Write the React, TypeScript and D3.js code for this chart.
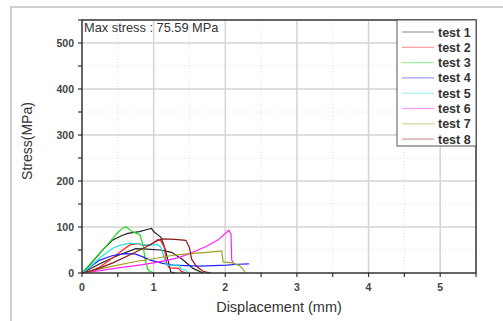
import React from "react";
import * as d3 from "d3";

const width = 503;
const height = 321;

const margin = { left: 82, top: 20, right: 27, bottom: 48 };

const xTicks = [0, 1, 2, 3, 4, 5];
const yTicks = [0, 100, 200, 300, 400, 500];

const seriesNames = ["test 1", "test 2", "test 3", "test 4", "test 5", "test 6", "test 7", "test 8"];
const seriesColors = ["#222222", "#ff2020", "#22dd22", "#2222ff", "#22e5e5", "#ff22ff", "#a0a020", "#8b1a1a"];

// displacement (mm), stress (MPa)
const test1: [number, number][] = [
  [0, 0], [0.1, 16], [0.2, 34], [0.3, 52], [0.43, 72], [0.55, 81], [0.64, 86], [0.8, 90],
  [0.9, 94], [0.97, 97], [1.0, 90], [1.05, 84], [1.1, 78], [1.15, 57], [1.2, 28], [1.24, 2], [1.3, 0],
];
const test2: [number, number][] = [
  [0, 0], [0.1, 3], [0.25, 13], [0.43, 33], [0.57, 50], [0.67, 61], [0.78, 64], [0.85, 60],
  [0.95, 61], [1.0, 66], [1.06, 73], [1.1, 70], [1.15, 55], [1.18, 20], [1.22, 11], [1.35, 10],
  [1.38, 4], [1.45, 0],
];
const test3: [number, number][] = [
  [0, 0], [0.1, 17], [0.2, 35], [0.3, 52], [0.4, 70], [0.5, 88], [0.57, 98], [0.62, 100],
  [0.7, 90], [0.81, 83], [0.85, 62], [0.88, 30], [0.92, 8], [0.95, 4], [1.0, 0],
];
const test4: [number, number][] = [
  [0, 0], [0.1, 12], [0.25, 28], [0.43, 38], [0.6, 42], [0.75, 41], [0.85, 35], [0.95, 28],
  [1.13, 21], [1.27, 17], [1.64, 15], [2.02, 17], [2.17, 19], [2.33, 20],
];
const test5: [number, number][] = [
  [0, 0], [0.1, 12], [0.25, 33], [0.43, 54], [0.53, 60], [0.66, 65], [0.8, 63], [0.95, 60],
  [1.05, 62], [1.1, 56], [1.13, 43], [1.16, 22], [1.2, 17], [1.36, 17], [1.38, 8], [1.45, 6], [1.48, 0],
];
const test6: [number, number][] = [
  [0, 0], [0.25, 5], [0.5, 11], [0.75, 16], [1.0, 22], [1.2, 28], [1.36, 34], [1.5, 42],
  [1.74, 58], [1.9, 72], [2.0, 86], [2.05, 93], [2.08, 85], [2.09, 28], [2.12, 20],
];
const test7: [number, number][] = [
  [0, 0], [0.25, 9], [0.5, 17], [0.75, 25], [1.0, 31], [1.25, 38], [1.5, 42], [1.75, 45],
  [1.95, 48], [1.97, 24], [2.1, 22], [2.2, 16], [2.25, 8], [2.28, 0],
];
const test8: [number, number][] = [
  [0, 0], [0.2, 8], [0.43, 22], [0.7, 42], [0.9, 57], [1.05, 70], [1.12, 74], [1.3, 73],
  [1.45, 71], [1.5, 55], [1.53, 30], [1.6, 14], [1.7, 3], [1.8, 0],
];
// unlabelled dark curve
const extra: [number, number][] = [
  [0, 0], [0.25, 20], [0.5, 38], [0.75, 53], [0.9, 52], [1.1, 50], [1.25, 45], [1.4, 30],
  [1.55, 10], [1.69, 0],
];

const series = [test1, test2, test3, test4, test5, test6, test7, test8];

const x = d3.scaleLinear().domain([0, 5.5]).range([margin.left, width - margin.right]);
const y = d3.scaleLinear().domain([0, 550]).range([height - margin.bottom, margin.top]);

const line = d3
  .line<[number, number]>()
  .x((d) => x(d[0]))
  .y((d) => y(d[1]));

export default function App() {
  const x0 = x.range()[0];
  const x1 = x.range()[1];
  const y0 = y.range()[0];
  const y1 = y.range()[1];
  const minorX = d3.range(0.5, 5.5, 1);
  const minorY = d3.range(50, 550, 100);
  const font = "'Liberation Sans', Arial, sans-serif";
  return (
    <svg
      width={width}
      height={height}
      style={{ position: "absolute", left: 0, top: 0, background: "#fff" }}
    >
      <rect x={11} y={7} width={510} height={330} fill="#fff" stroke="#a0a0a0" strokeWidth={1} />

      {/* grid */}
      {minorX.map((t) => (
        <line key={"mx" + t} x1={x(t)} x2={x(t)} y1={y0} y2={y1} stroke="#e2e2e2" strokeDasharray="1,2" />
      ))}
      {minorY.map((t) => (
        <line key={"my" + t} x1={x0} x2={x1} y1={y(t)} y2={y(t)} stroke="#e2e2e2" strokeDasharray="1,2" />
      ))}
      {xTicks.slice(1).map((t) => (
        <line key={"gx" + t} x1={x(t)} x2={x(t)} y1={y0} y2={y1} stroke="#d4d4d4" strokeWidth={1.5} />
      ))}
      {yTicks.slice(1).map((t) => (
        <line key={"gy" + t} x1={x0} x2={x1} y1={y(t)} y2={y(t)} stroke="#d4d4d4" strokeWidth={1.5} />
      ))}

      {/* curves */}
      <path d={line(extra) ?? ""} fill="none" stroke="#222" strokeWidth={1.2} />
      {series.map((s, i) => (
        <path key={i} d={line(s) ?? ""} fill="none" stroke={seriesColors[i]} strokeWidth={1.2} />
      ))}

      {/* frame */}
      <rect x={x0} y={y1} width={x1 - x0} height={y0 - y1} fill="none" stroke="#333" strokeWidth={1.5} />

      {/* ticks */}
      {d3.range(0, 5.5, 0.5).concat([5.5]).map((t) => (
        <line key={"tx" + t} x1={x(t)} x2={x(t)} y1={y0} y2={y0 + 4} stroke="#333" strokeWidth={1.2} />
      ))}
      {d3.range(0, 551, 50).map((t) => (
        <line key={"ty" + t} x1={x0 - 4} x2={x0} y1={y(t)} y2={y(t)} stroke="#333" strokeWidth={1.2} />
      ))}
      {xTicks.map((t) => (
        <text
          key={"lx" + t}
          x={x(t)}
          y={y0 + 18}
          textAnchor="middle"
          fontSize={10.5}
          fontWeight="bold"
          fill="#444"
          fontFamily={font}
        >
          {t}
        </text>
      ))}
      {yTicks.map((t) => (
        <text
          key={"ly" + t}
          x={x0 - 8}
          y={y(t) + 4}
          textAnchor="end"
          fontSize={10.5}
          fontWeight="bold"
          fill="#444"
          fontFamily={font}
        >
          {t}
        </text>
      ))}

      {/* axis titles */}
      <text x={279} y={312} textAnchor="middle" fontSize={14.5} fill="#333" fontFamily={font}>
        Displacement (mm)
      </text>
      <text
        transform={`translate(32,141) rotate(-90)`}
        textAnchor="middle"
        fontSize={14}
        fill="#333"
        fontFamily={font}
      >
        Stress(MPa)
      </text>

      <text x={x0 + 2} y={y1 + 12} fontSize={12.8} fill="#333" fontFamily={font}>
        Max stress : 75.59 MPa
      </text>

      {/* legend */}
      <rect x={397} y={y1} width={x1 - 397} height={126} fill="#fff" stroke="#555" strokeWidth={1} />
      {seriesNames.map((name, i) => {
        const ly = 32 + i * 15.3;
        return (
          <g key={name}>
            <line x1={402} x2={434} y1={ly} y2={ly} stroke={seriesColors[i]} strokeOpacity={0.45} strokeWidth={1.2} />
            <text x={438} y={ly + 4.5} fontSize={12.5} fontWeight="bold" fill="#333" fontFamily={font}>
              {name}
            </text>
          </g>
        );
      })}
    </svg>
  );
}
